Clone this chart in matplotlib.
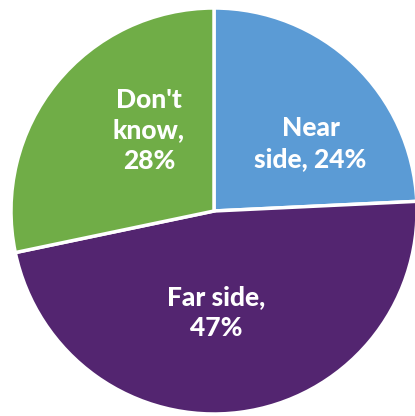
import matplotlib.pyplot as plt
import numpy as np

# Survey answers
labels = ["Near\nside, 24%", "Far side,\n47%", "Don't\nknow,\n28%"]
shares = [24, 47, 28]
colors = ["#5b9bd5", "#532570", "#70ad47"]

# label placement (angle in degrees, distance as fraction of radius)
label_angles = [35, -89, 129]
label_dists = [0.58, 0.50, 0.51]

fig = plt.figure(figsize=(4.15, 4.16), dpi=100)
# circle centre at (214, 211) px from top-left, radius ~203 px
cx, cy = 214 / 415, (416 - 211) / 416
rw, rh = 203 / 415, 203 / 416
ax = fig.add_axes([cx - rw, cy - rh, 2 * rw, 2 * rh])

ax.pie(shares, colors=colors, startangle=90, counterclock=False,
       wedgeprops=dict(edgecolor='white', linewidth=2.5))

for lab, ang, d in zip(labels, label_angles, label_dists):
    a = np.deg2rad(ang)
    ax.text(d * np.cos(a), d * np.sin(a), lab, ha='center', va='center',
            color='white', fontsize=19, fontweight='black', family='Lato',
            linespacing=1.32)

ax.set_xlim(-1, 1)
ax.set_ylim(-1, 1)
ax.set_aspect('auto')
ax.axis('off')

fig.savefig("out.png", dpi=100)
